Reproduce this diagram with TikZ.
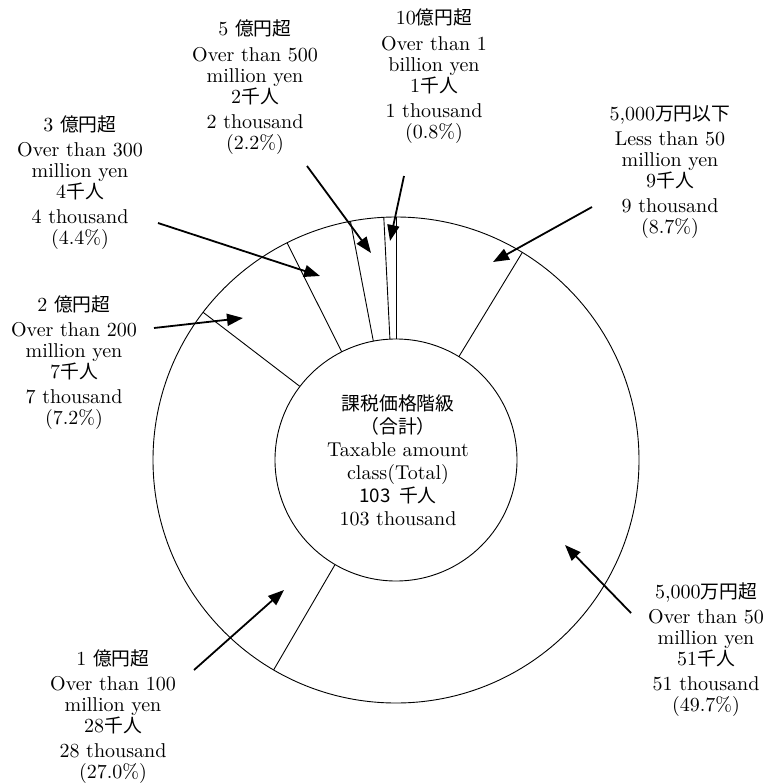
\documentclass[tikz,border=0pt]{standalone}
\usepackage{fontspec}
\setmainfont{lmroman10-regular}[Extension=.otf]
\newfontfamily\jpfont{Noto Sans CJK JP}[Scale=0.94]
\usetikzlibrary{arrows.meta}
\newcommand{\jp}[1]{{\jpfont #1}}
\begin{document}
\begin{tikzpicture}[x=1pt,y=-1pt,
  lbl/.style={align=center, inner sep=0pt, font=\fontsize{20}{21}\selectfont},
  ptr/.style={line width=1.8pt, -{Triangle[length=16pt,width=12pt]}},
  ring/.style={line width=0.9pt}]
\useasboundingbox (0,0) rectangle (773,784);
% ring
\coordinate (c) at (396,460);
\draw[ring] (c) circle[radius=243pt];
\foreach \a in {90,92.88,100.8,116.64,142.56,239.76,58.68}
  \draw[ring,shift={(396,460)}] (-\a:121) -- (-\a:243);
\node[circle, draw, line width=0.9pt, fill=white, minimum size=242pt, inner sep=0pt] (inner) at (c) {};
% center text
\node[lbl, font=\fontsize{20}{23}\selectfont] (ctr) at (398,460) {\jp{課税価格階級}\\ \jp{（合計）}\\ Taxable amount\\ class(Total)\\ \jp{103\ \ 千人}\\ 103 thousand};
% labels
\node[lbl] (n10) at (434,76) {10\jp{億円超}\\[5pt] Over than 1\\ billion yen\\ 1\jp{千人}\\[4pt] 1 thousand\\ (0.8\%)};
\node[lbl] (n5) at (255,87) {5 \jp{億円超}\\[5pt] Over than 500\\ million yen\\ 2\jp{千人}\\[4pt] 2 thousand\\ (2.2\%)};
\node[lbl] (n3) at (80,183) {3 \jp{億円超}\\[4pt] Over than 300\\ million yen\\ 4\jp{千人}\\[4pt] 4 thousand\\ (4.4\%)};
\node[lbl] (n2) at (74,363) {2 \jp{億円超}\\[4pt] Over than 200\\ million yen\\ 7\jp{千人}\\[4pt] 7 thousand\\ (7.2\%)};
\node[lbl] (n1) at (113,717) {1 \jp{億円超}\\[4pt] Over than 100\\ million yen\\ 28\jp{千人}\\[4pt] 28 thousand\\ (27.0\%)};
\node[lbl] (nu) at (706,650) {5,000\jp{万円超}\\[4pt] Over than 50\\ million yen\\ 51\jp{千人}\\[4pt] 51 thousand\\ (49.7\%)};
\node[lbl] (nl) at (670,172) {5,000\jp{万円以下}\\[4pt] Less than 50\\ million yen\\ 9\jp{千人}\\[4pt] 9 thousand\\ (8.7\%)};
% arrow ends
\coordinate (s10) at (404,176); \coordinate (t10) at (390,241);
\coordinate (s5) at (307,166);  \coordinate (t5) at (371,253);
\coordinate (s3) at (158,223);  \coordinate (t3) at (320,276);
\coordinate (s2) at (154,328);  \coordinate (t2) at (243,318);
\coordinate (sl) at (592,207);  \coordinate (tl) at (493,262);
\coordinate (su) at (631,613);  \coordinate (tu) at (565,545);
\coordinate (s1) at (194,670);  \coordinate (t1) at (284,590);
\foreach \k in {10,5,3,2,l,u,1}
  \draw[ptr] (s\k) -- (t\k);
\end{tikzpicture}
\end{document}
